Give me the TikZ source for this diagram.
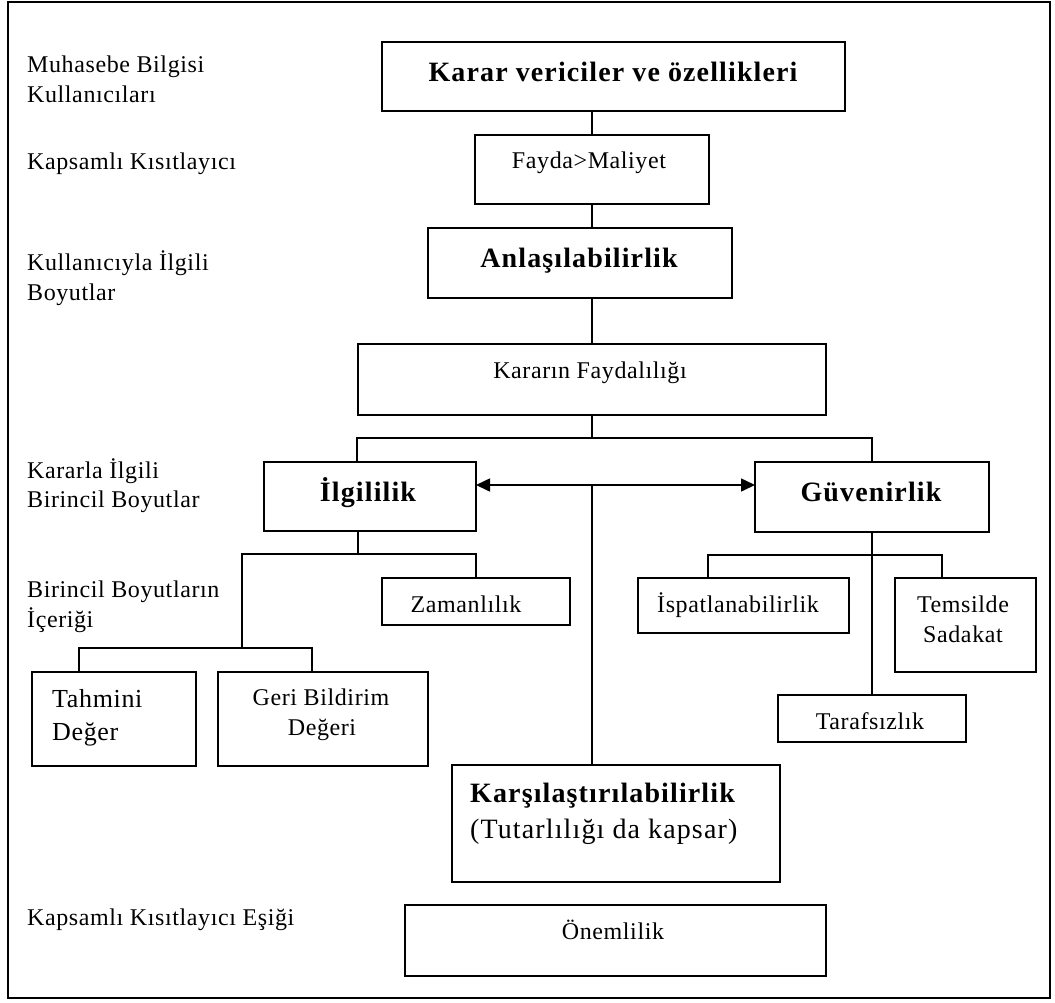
\documentclass[tikz,border=0pt]{standalone}
\usepackage{fontspec}
\setmainfont{Liberation Serif}
\newfontfamily\smallfam{Liberation Serif}[LetterSpace=2.5]
\newfontfamily\bigfam{Liberation Serif}[LetterSpace=4]
\usetikzlibrary{arrows.meta}
\tikzset{
  lbl/.style={font=\smallfam\fontsize{24}{28}\selectfont, inner sep=0pt, anchor=base},
  lblw/.style={lbl, anchor=base west},
  midlbl/.style={font=\smallfam\fontsize{26}{30}\selectfont, inner sep=0pt, anchor=base west},
  head/.style={font=\bigfam\bfseries\fontsize{28}{32}\selectfont, inner sep=0pt, anchor=base},
  headw/.style={head, anchor=base west},
  bigreg/.style={font=\bigfam\fontsize{28}{32}\selectfont, inner sep=0pt, anchor=base west},
  box/.style={draw, line width=1.6pt, inner sep=0pt},
  wire/.style={line width=1.6pt},
  tip/.tip={Triangle[length=14pt,width=13pt]}
}
\begin{document}
\begin{tikzpicture}[x=1pt,y=-1pt]
\useasboundingbox (0,0) rectangle (1055,1002);
% outer frame
\draw[line width=1.6pt] (8,2) rectangle (1050,998);

% left-hand level captions
\node[lblw] (c1a) at (27,72) {Muhasebe Bilgisi};
\node[lblw] (c1b) at (27,102) {Kullanıcıları};
\node[lblw] (c2) at (27,169) {Kapsamlı Kısıtlayıcı};
\node[lblw] (c3a) at (27,270) {Kullanıcıyla İlgili};
\node[lblw] (c3b) at (27,300) {Boyutlar};
\node[lblw] (c4a) at (27,478) {Kararla İlgili};
\node[lblw] (c4b) at (27,507) {Birincil Boyutlar};
\node[lblw] (c5a) at (27,597) {Birincil Boyutların};
\node[lblw] (c5b) at (27,627) {İçeriği};
\node[lblw] (c6) at (27,925) {Kapsamlı Kısıtlayıcı Eşiği};

% boxes
\node[box, minimum width=463pt, minimum height=69pt] (karar) at (613.5,76.5) {};
\node[box, minimum width=234pt, minimum height=69pt] (fayda) at (592,169.5) {};
\node[box, minimum width=304pt, minimum height=70pt] (anla) at (580,263) {};
\node[box, minimum width=468pt, minimum height=71pt] (kfay) at (592,379.5) {};
\node[box, minimum width=212pt, minimum height=69pt] (ilgi) at (370,496.5) {};
\node[box, minimum width=234pt, minimum height=70pt] (guv) at (872,497) {};
\node[box, minimum width=188pt, minimum height=47pt] (zaman) at (476,601.5) {};
\node[box, minimum width=164pt, minimum height=94pt] (tahmin) at (114,719) {};
\node[box, minimum width=210pt, minimum height=94pt] (geri) at (323,719) {};
\node[box, minimum width=211pt, minimum height=55pt] (ispat) at (743.5,605.5) {};
\node[box, minimum width=141pt, minimum height=94pt] (temsil) at (965.5,625) {};
\node[box, minimum width=188pt, minimum height=47pt] (taraf) at (872,718.5) {};
\node[box, minimum width=328pt, minimum height=117pt] (karsi) at (616,823.5) {};
\node[box, minimum width=421pt, minimum height=71pt] (onem) at (615.5,940.5) {};

% box texts
\node[head] (tkarar) at (613,81) {Karar vericiler ve özellikleri};
\node[lbl] (tfayda) at (589,168) {Fayda>Maliyet};
\node[head] (tanla) at (579,267) {Anlaşılabilirlik};
\node[lbl] (tkfay) at (590,378) {Kararın Faydalılığı};
\node[head] (tilgi) at (368,501) {İlgililik};
\node[head] (tguv) at (871,501) {Güvenirlik};
\node[lbl] (tzaman) at (466,612) {Zamanlılık};
\node[midlbl] (ttah1) at (52,707) {Tahmini};
\node[midlbl] (ttah2) at (52,740) {Değer};
\node[lbl] (tgeri1) at (321,705) {Geri Bildirim};
\node[lbl] (tgeri2) at (322,735) {Değeri};
\node[lbl] (tispat) at (738,612) {İspatlanabilirlik};
\node[lbl] (ttem1) at (963,612) {Temsilde};
\node[lbl] (ttem2) at (963,642) {Sadakat};
\node[lbl] (ttaraf) at (870,729) {Tarafsızlık};
\node[headw] (tkarsi1) at (470,802) {Karşılaştırılabilirlik};
\node[bigreg] (tkarsi2) at (470,838) {(Tutarlılığı da kapsar)};
\node[lbl] (tonem) at (613,939) {Önemlilik};

% junction points
\coordinate (bus1) at (592,438);
\coordinate (arl) at (476,485);
\coordinate (arr) at (755,485);
\coordinate (mid) at (592,485);
\coordinate (b2) at (358,554);
\coordinate (b2l) at (242,554);
\coordinate (b3) at (242,648);
\coordinate (tk) at (79,648);
\coordinate (gk) at (312,648);
\coordinate (ik) at (708,555);
\coordinate (sk) at (942,555);

% connectors, top spine
\draw[wire] (fayda.north |- karar.south) -- (fayda.north);
\draw[wire] (fayda.south) -- (fayda.south |- anla.north);
\draw[wire] (kfay.north |- anla.south) -- (kfay.north);
\draw[wire] (kfay.south) -- (bus1);
\draw[wire] (ilgi.north -| kfay.west) |- (bus1) -| (guv.north);
\draw[wire, tip-tip] (arl) -- (arr);
\draw[wire] (mid) -- (mid |- karsi.north);

% relevance branch
\draw[wire] (b2 |- ilgi.south) -- (b2);
\draw[wire] (b3) -- (b2l) -- (zaman.north |- b2l) -- (zaman.north);
\draw[wire] (tk |- tahmin.north) -- (tk) -- (gk) -- (gk |- geri.north);

% reliability branch
\draw[wire] (guv.south) -- (taraf.north);
\draw[wire] (ik |- ispat.north) -- (ik) -- (sk) -- (sk |- temsil.north);
\end{tikzpicture}
\end{document}
